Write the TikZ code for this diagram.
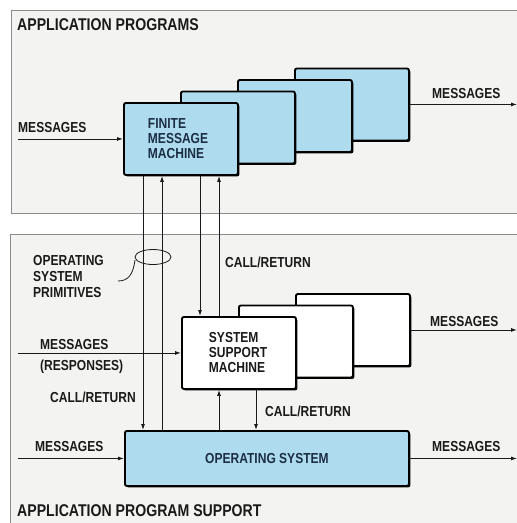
\documentclass[tikz,border=0pt]{standalone}
\usepackage{fontspec}
\setmainfont{Liberation Sans}[FakeStretch=0.83]
\usetikzlibrary{arrows.meta,shadows}
\definecolor{boxblue}{HTML}{AEDCEE}
\definecolor{panel}{HTML}{F3F3F1}
\definecolor{panelline}{HTML}{8C8C8C}
\definecolor{ink}{HTML}{1A1A1A}
\definecolor{inkblue}{HTML}{1C2E44}
\begin{document}
\begin{tikzpicture}[x=1pt,y=-1pt,
  lbl/.style={font=\fontsize{14.5}{16}\selectfont\bfseries, text=ink, inner sep=0pt, anchor=base west},
  ttl/.style={font=\fontsize{17}{19}\selectfont\bfseries, text=ink, inner sep=0pt, anchor=base west},
  mbox/.style={draw=black, line width=1.9pt, rounded corners=2pt, minimum width=114pt,
    minimum height=72pt, anchor=north west, inner sep=0pt, align=left,
    font=\fontsize{14.5}{15}\selectfont\bfseries,
    drop shadow={shadow xshift=1.4pt, shadow yshift=-1.4pt, opacity=1, fill=black}},
  bluebox/.style={mbox, fill=boxblue, text=inkblue},
  whitebox/.style={mbox, fill=white, text=ink},
  arr/.style={-{Latex[length=6pt,width=4pt]}, line width=0.9pt, draw=ink},
  wire/.style={line width=0.9pt, draw=ink},
  panelbox/.style={fill=panel, draw=panelline, line width=0.8pt}]
\clip (0,0) rectangle (517,523);
\fill[white] (0,0) rectangle (517,523);
% panels
\draw[panelbox] (11,10) rectangle (530,213);
\draw[panelbox] (10,234) rectangle (530,540);
\node[ttl] (tA) at (17,30) {APPLICATION PROGRAMS};
\node[ttl] (tB) at (17,516) {APPLICATION PROGRAM SUPPORT};
% finite message machines
\node[bluebox] (fmm4) at (294,67.5) {};
\node[bluebox] (fmm3) at (237,79) {};
\node[bluebox] (fmm2) at (180,90.5) {};
\node[bluebox, text width=66pt] (fmm) at (123,102) {FINITE\\MESSAGE\\MACHINE};
% system support machines
\node[whitebox] (ssm3) at (295,293) {};
\node[whitebox] (ssm2) at (238,304.5) {};
\node[whitebox, text width=60pt] (ssm) at (181,316) {SYSTEM\\SUPPORT\\MACHINE};
% operating system
\node[mbox, fill=boxblue, text=inkblue, minimum width=284pt, minimum height=55pt] (os) at (124,430) {OPERATING SYSTEM};
% coordinates for free ends and wires
\coordinate (L) at (18,0);
\coordinate (R) at (517,0);
\coordinate (w1) at (143,0);
\coordinate (w2) at (162,0);
\coordinate (w3) at (200,0);
\coordinate (w4) at (219,0);
\coordinate (w5) at (256,0);
% primitives loop
\draw[wire, line width=0.8pt] (153,257) ellipse [x radius=18, y radius=7.5];
\draw[wire, line width=0.8pt] (135,260) .. controls (133,275) and (128,281) .. (118,281);
% message arrows
\draw[arr] (L |- fmm.west) -- (fmm.west);
\draw[arr] (fmm4.east) -- (R |- fmm4.east);
\draw[arr] (L |- ssm.west) -- (ssm.west);
\draw[arr] (ssm3.east) -- (R |- ssm3.east);
\draw[arr] (L |- os.west) -- (os.west);
\draw[arr] (os.east) -- (R |- os.east);
% vertical wires
\draw[arr] (w1 |- fmm.south) -- (w1 |- os.north);
\draw[arr] (w2 |- os.north) -- (w2 |- fmm.south);
\draw[arr] (w3 |- fmm.south) -- (w3 |- ssm.north);
\draw[arr] (w4 |- ssm.north) -- (w4 |- fmm.south);
\draw[arr] (w4 |- os.north) -- (w4 |- ssm.south);
\draw[arr] (w5 |- ssm.south) -- (w5 |- os.north);
% labels
\node[lbl] (m1) at (18,132) {MESSAGES};
\node[lbl] (m2) at (432,98) {MESSAGES};
\node[lbl, anchor=north west, align=left] (osp) at (33,255) {OPERATING\\SYSTEM\\PRIMITIVES};
\node[lbl] (c1) at (225,267) {CALL/RETURN};
\node[lbl, anchor=north west, align=left, font=\fontsize{14.5}{21}\selectfont\bfseries] (m3) at (40,339) {MESSAGES\\(RESPONSES)};
\node[lbl] (m4) at (430,326) {MESSAGES};
\node[lbl] (c2) at (50,402) {CALL/RETURN};
\node[lbl] (c3) at (265,416) {CALL/RETURN};
\node[lbl] (m5) at (35,451) {MESSAGES};
\node[lbl] (m6) at (432,451) {MESSAGES};
\end{tikzpicture}
\end{document}
